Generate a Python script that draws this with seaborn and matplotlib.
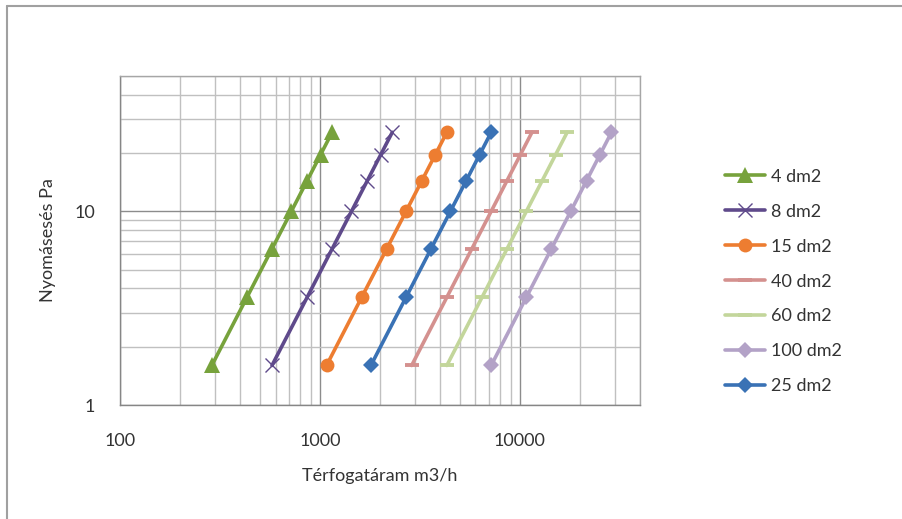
import numpy as np
import pandas as pd
import matplotlib
matplotlib.use("Agg")
import matplotlib.pyplot as plt
import seaborn as sns
from matplotlib.ticker import LogLocator, NullFormatter, FixedLocator
from matplotlib.lines import Line2D

# Adatok (leolvasva az ábráról)
nyomasesés = [1.6, 3.6, 6.4, 10, 14.4, 19.6, 25.6]
q_4 = [288, 432, 576, 720, 864, 1008, 1152]
q_8 = [576, 864, 1152, 1440, 1728, 2016, 2304]
q_15 = [1080, 1620, 2160, 2700, 3240, 3780, 4320]
q_40 = [2880, 4320, 5760, 7200, 8640, 10080, 11520]
q_60 = [4320, 6480, 8640, 10800, 12960, 15120, 17280]
q_100 = [7200, 10800, 14400, 18000, 21600, 25200, 28800]
q_25 = [1800, 2700, 3600, 4500, 5400, 6300, 7200]

sorozatok = ['4 dm2', '8 dm2', '15 dm2', '40 dm2', '60 dm2', '100 dm2', '25 dm2']
x_tick_labels = ['100', '1000', '10000']
y_tick_labels = ['1', '10']

# Stílus
sns.set_style("white")
plt.rcParams['font.family'] = ['Lato', 'DejaVu Sans']
plt.rcParams['font.size'] = 13

stilus = {
    '4 dm2':   dict(q=q_4,   color='#77A23C', marker='^', ms=11,  mew=0),
    '8 dm2':   dict(q=q_8,   color='#5F4A8B', marker='x', ms=10,  mew=1.0),
    '15 dm2':  dict(q=q_15,  color='#ED7D31', marker='o', ms=10,  mew=0),
    '40 dm2':  dict(q=q_40,  color='#D4918F', marker='_', ms=10,  mew=2.8),
    '60 dm2':  dict(q=q_60,  color='#C3D69B', marker='_', ms=10,  mew=2.8),
    '100 dm2': dict(q=q_100, color='#B3A2C7', marker='D', ms=8,   mew=0),
    '25 dm2':  dict(q=q_25,  color='#3A72B5', marker='D', ms=8,   mew=0),
}

fig = plt.figure(figsize=(9.02, 5.19), dpi=100)
ax = fig.add_axes([120 / 902, 114 / 519, 520 / 902, 329 / 519])

for nev in sorozatok:
    s = stilus[nev]
    df = pd.DataFrame({'q': s['q'], 'dp': nyomasesés})
    sns.lineplot(data=df, x='q', y='dp', ax=ax, color=s['color'], linewidth=2.6,
                 marker=s['marker'], markersize=s['ms'], markeredgewidth=s['mew'],
                 markeredgecolor=s['color'], markerfacecolor=s['color'], label=nev)

ax.set_xscale('log')
ax.set_yscale('log')
ax.set_xlim(100, 40000)
ax.set_ylim(1, 50)

ax.xaxis.set_major_locator(FixedLocator([100, 1000, 10000]))
ax.set_xticklabels(x_tick_labels)
ax.yaxis.set_major_locator(FixedLocator([1, 10]))
ax.set_yticklabels(y_tick_labels)
ax.xaxis.set_minor_locator(LogLocator(base=10, subs=np.arange(2, 10)))
ax.yaxis.set_minor_locator(LogLocator(base=10, subs=np.arange(2, 10)))
ax.xaxis.set_minor_formatter(NullFormatter())
ax.yaxis.set_minor_formatter(NullFormatter())

ax.grid(True, which='minor', color='#C0C0C0', linewidth=1.0)
ax.grid(True, which='major', color='#8C8C8C', linewidth=1.0)
ax.set_axisbelow(True)

for sp in ax.spines.values():
    sp.set_color('#A6A6A6')
    sp.set_linewidth(1.0)
ax.spines['left'].set_color('#868686')
ax.spines['bottom'].set_color('#868686')

ax.tick_params(axis='both', which='major', direction='out', length=6, width=1,
               color='#868686', labelsize=13, labelcolor='#333333')
ax.tick_params(axis='x', which='major', pad=14)
ax.tick_params(axis='y', which='major', pad=12)
ax.tick_params(axis='both', which='minor', length=0)

ax.set_xlabel('Térfogatáram m3/h', fontsize=13, color='#333333', labelpad=14)
ax.set_ylabel('Nyomásesés Pa', fontsize=13, color='#333333', labelpad=13)

ax.legend(loc='center left', bbox_to_anchor=(716 / 902, 0.4576),
          bbox_transform=fig.transFigure, frameon=False, fontsize=13,
          handlelength=2.2, handletextpad=0.35, labelspacing=1.05, borderpad=0,
          labelcolor='#333333')

# külső keret (bal és felső él)
fig.add_artist(Line2D([7 / 902, 7 / 902], [0, 1 - 6 / 519], transform=fig.transFigure,
                      color='#A0A0A0', linewidth=1.5))
fig.add_artist(Line2D([7 / 902, 1], [1 - 6 / 519, 1 - 6 / 519], transform=fig.transFigure,
                      color='#A0A0A0', linewidth=1.5))

fig.savefig('out.png', dpi=100)
